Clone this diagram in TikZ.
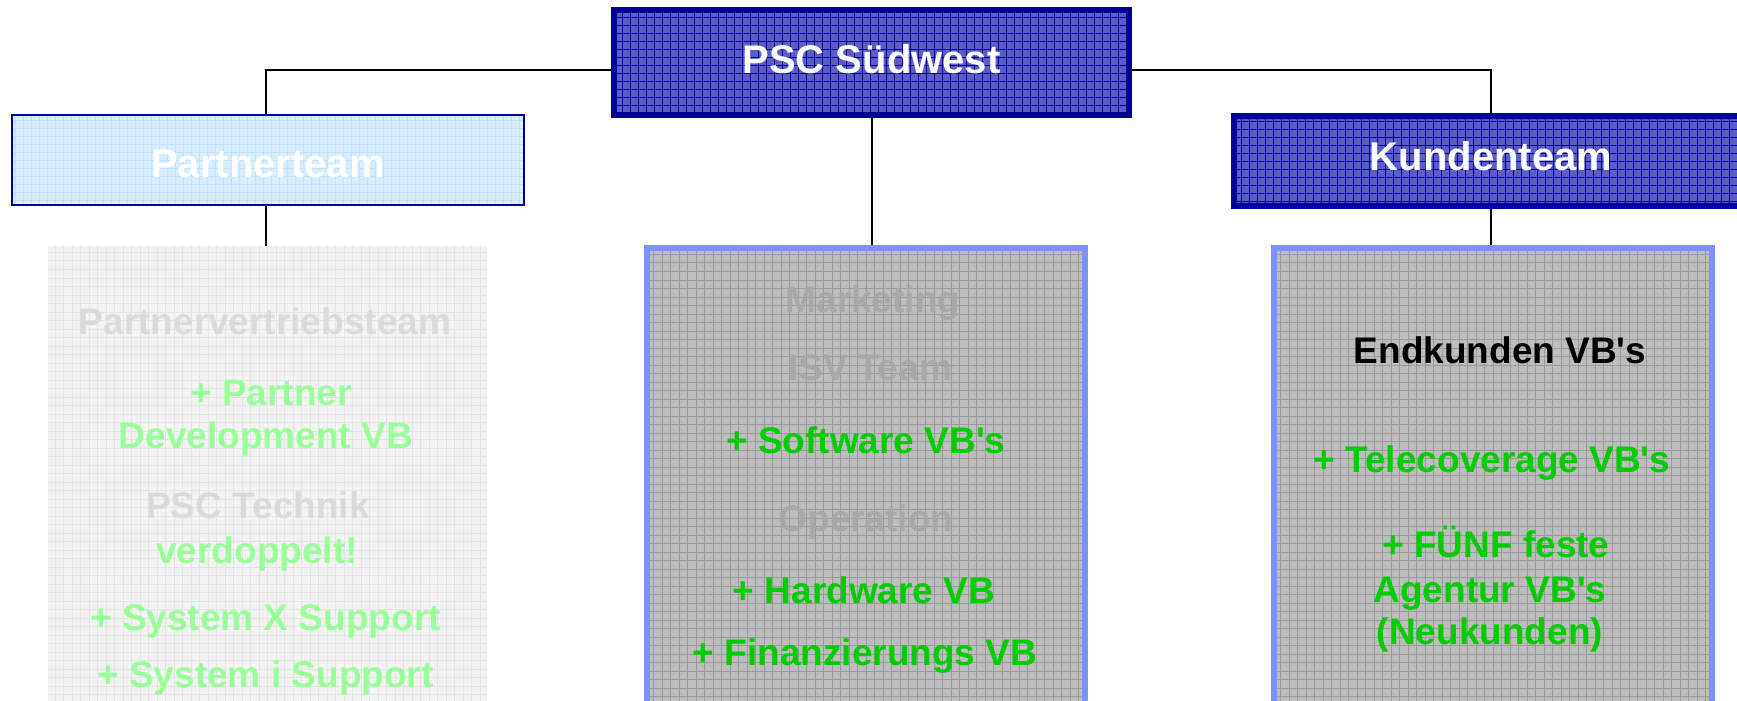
\documentclass[tikz,border=0pt]{standalone}
\usepackage{fontspec}
\setmainfont{Liberation Sans}
\definecolor{navy}{HTML}{000099}
\definecolor{bluefill}{HTML}{5C5CC4}
\definecolor{skyfill}{HTML}{D8EEFF}
\definecolor{skygrid}{HTML}{C2E0FF}
\definecolor{paper}{HTML}{F3F3F3}
\definecolor{papergrid}{HTML}{E4E4E4}
\definecolor{slate}{HTML}{BDBDBD}
\definecolor{slategrid}{HTML}{9A9A9A}
\definecolor{periwinkle}{HTML}{8090FF}
\definecolor{palegray}{HTML}{DADADA}
\definecolor{midgray}{HTML}{A8A8A8}
\definecolor{palegreen}{HTML}{99FF99}
\definecolor{brightgreen}{HTML}{00CC00}

\begin{document}
\begin{tikzpicture}[x=0.5pt,y=-0.5pt,
  gridded/.style 2 args={path picture={
    \draw[#1, line width=0.5pt, step=#2]
      (path picture bounding box.south west) grid (path picture bounding box.north east);}},
  head/.style={rectangle, font=\bfseries\fontsize{20}{24}\selectfont, text=white,
    inner sep=0pt, minimum width=257pt, minimum height=45pt},
  darkhead/.style={head, draw=navy, line width=3pt, fill=bluefill, gridded={navy}{4pt}},
  panel/.style={rectangle, inner sep=0pt, minimum width=219pt, minimum height=236pt},
  greypanel/.style={panel, draw=periwinkle, line width=3pt, fill=slate, gridded={slategrid}{4.25pt}},
  txt/.style={anchor=base, inner sep=0pt, font=\bfseries\fontsize{18.5}{21.5}\selectfont},
  link/.style={line width=1pt, black}
]
\useasboundingbox (0,0) rectangle (1737,701);
\begin{scope}
\clip (0,0) rectangle (1737,701);

% top level and the two team headers
\node[darkhead, minimum width=257.5pt, minimum height=52.5pt,
      text height=14.5pt, text depth=3pt] (psc) at (871.5,62.5) {PSC Südwest};
\node[head, draw=navy, line width=1pt, fill=skyfill, gridded={skygrid}{4pt},
      minimum width=256pt, text height=17pt, text depth=0pt] (partner) at (268,160) {Partnerteam};
\node[darkhead, text height=14pt, text depth=5pt] (kunden) at (1491,161) {Kundenteam};

% the three lower panels
\node[panel, fill=paper, gridded={papergrid}{4.25pt}, minimum width=219.5pt] (pvt) at (267.5,482) {};
\node[greypanel] (mid) at (866,484) {};
\node[greypanel] (kt) at (1493,484) {};

% connectors
\draw[link] ([yshift=-3.75pt]psc.west) -| ([xshift=-1pt]partner.north);
\draw[link] ([yshift=-3.75pt]psc.east) -| (kunden.north);
\draw[link] (psc.south) -- (psc.south |- mid.north);
\draw[link] ([xshift=-1pt]partner.south) -- ([xshift=-1pt]partner.south |- pvt.north);
\draw[link] (kunden.south) -- (kunden.south |- kt.north);

% partner panel
\node[txt, text=palegray]  (pvteam) at (265,334) {Partnervertriebsteam};
\node[txt, text=palegreen] (pdevA)  at (271,405) {+ Partner};
\node[txt, text=palegreen] (pdevB)  at (266,448) {Development VB};
\node[txt, text=palegray]  (techA)  at (258,518) {PSC Technik};
\node[txt, text=palegreen] (techB)  at (257,563) {verdoppelt!};
\node[txt, text=palegreen] (sysx)   at (265.5,630) {+ System X Support};
\node[txt, text=palegreen] (sysi)   at (265.5,687) {+ System i Support};

% middle panel
\node[txt, text=midgray]     (mkt) at (873,313) {Marketing};
\node[txt, text=midgray]     (isv) at (870,380) {ISV Team};
\node[txt, text=brightgreen] (sw)  at (866,453) {+ Software VB\textquotesingle s};
\node[txt, text=midgray]     (ops) at (866,531) {Operation};
\node[txt, text=brightgreen] (hw)  at (864,603) {+ Hardware VB};
\node[txt, text=brightgreen] (fin) at (865,665) {+ Finanzierungs VB};

% customer panel
\node[txt, text=black]       (ek)   at (1500,363) {Endkunden VB\textquotesingle s};
\node[txt, text=brightgreen] (tc)   at (1492,472) {+ Telecoverage VB\textquotesingle s};
\node[txt, text=brightgreen] (fnfA) at (1496,557) {+ FÜNF feste};
\node[txt, text=brightgreen] (fnfB) at (1490,602) {Agentur VB\textquotesingle s};
\node[txt, text=brightgreen] (fnfC) at (1490,644) {(Neukunden)};
\end{scope}
\end{tikzpicture}
\end{document}
